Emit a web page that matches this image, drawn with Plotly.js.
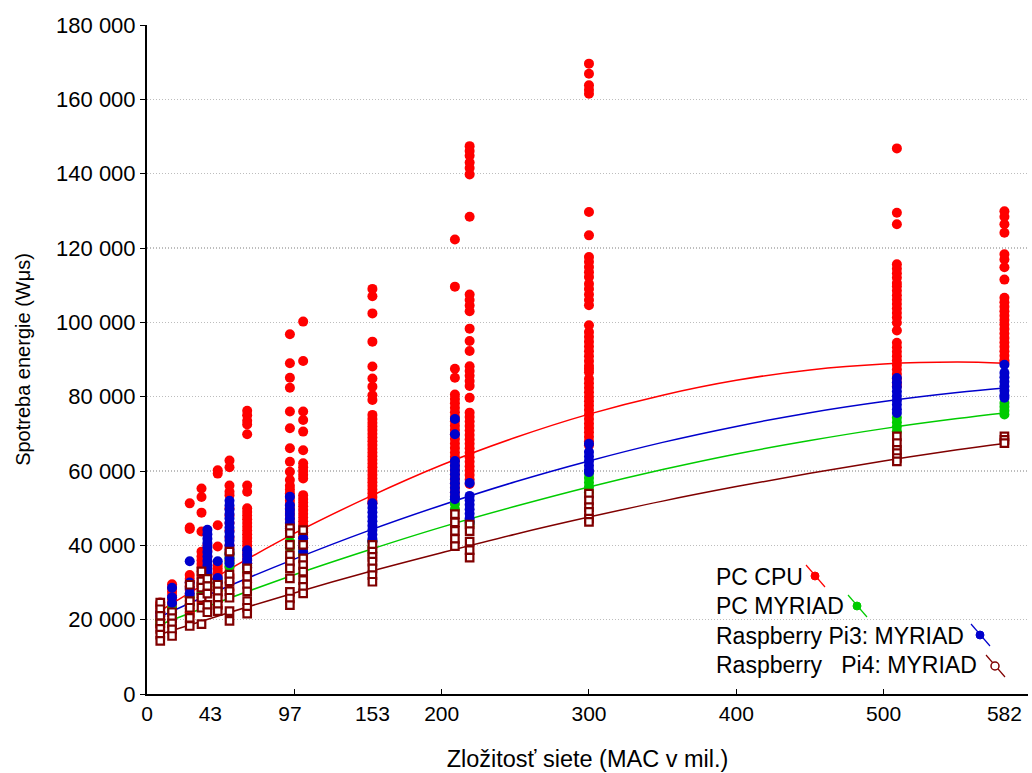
<!DOCTYPE html>
<html>
<head>
<meta charset="utf-8">
<script src="https://cdn.plot.ly/plotly-3.0.1.min.js"></script>
<style>html,body{margin:0;padding:0;background:#fff}#chart{width:1032px;height:773px}</style>
</head>
<body>
<div id="chart"></div>
<script>
// ---- data ----
const macClusters = [9, 17, 29, 37, 41, 48, 56, 68, 97, 106, 153, 209, 219, 300, 509, 582];
const xTickVals = [0, 43, 97, 153, 200, 300, 400, 500, 582];
const xTickText = ['0', '43', '97', '153', '200', '300', '400', '500', '582'];
const yTickVals = [0, 20000, 40000, 60000, 80000, 100000, 120000, 140000, 160000, 180000];
const seriesNames = ['PC CPU', 'PC MYRIAD', 'Raspberry Pi3: MYRIAD', 'Raspberry Pi4: MYRIAD'];

const pcCpuEnergy = [
  [18000, 19000, 20000, 21000, 22000, 23000, 24000, 24600],
  [22500, 23500, 24500, 25500, 26500, 27500, 28500, 29500],
  [51300, 44800, 44400, 32000, 31000, 30000, 29000, 28000, 27000, 26000, 25000, 24000, 23000, 22000, 21000],
  [55300, 53000, 48800, 43700, 38300, 37000, 36000, 35000, 34000, 33000, 32000, 31000, 30000, 29000, 28000, 27000, 26000, 25000],
  [40000, 38500, 37000, 35500, 34000, 32500, 31000, 29500, 28000],
  [60200, 59300, 45400, 39700, 34800, 33800, 32800, 31800, 30800, 29800, 28800, 27700, 26500, 25000, 23500],
  [62800, 61000, 56100, 54400, 53500, 50000, 48000, 46000, 44000, 42000, 40000, 38000, 36000, 34000, 32000, 30000, 28000],
  [76200, 75000, 73500, 72500, 69900, 56100, 54400, 50000, 49000, 48000, 47000, 46000, 45000, 44000, 43000, 42000, 41000, 40000, 39000, 38000, 37000, 36000, 35200, 34000, 32000, 30000],
  [96800, 89000, 85100, 82400, 76000, 71500, 66100, 62500, 59800, 57600, 56000, 55000, 54000, 53000, 52000, 51000, 50000, 49000, 48000, 47000, 46000, 45000, 44000],
  [100200, 89600, 76000, 73700, 70600, 65600, 62100, 61000, 60000, 59000, 58000, 53500, 52500, 51500, 50500, 49500, 48500, 47500, 46500, 45500, 44500, 43500, 42500, 41900],
  [109000, 107000, 102400, 94800, 88100, 84900, 82700, 80400, 79100, 75100, 74000, 73000, 72000, 71000, 70000, 69000, 68000, 67000, 66000, 65000, 64000, 63000, 62000, 61000, 60000, 59000, 58000, 57000, 56000, 55000, 54000, 53000, 52000, 51300],
  [122300, 109600, 87500, 85100, 80600, 79400, 78200, 77000, 75800, 74600, 73400, 72200, 71000, 69800, 68600, 67400, 66200, 65000, 63800, 62600, 61400, 60200, 59000, 57800, 56600, 55400, 54200, 53000],
  [147400, 146100, 144800, 143000, 141500, 139800, 128400, 107500, 106000, 104500, 103000, 98300, 95000, 92300, 88200, 86900, 85600, 84200, 82900, 79700, 75700, 74500, 73300, 72100, 70900, 69700, 68500, 67300, 66100, 64900, 63700, 62500, 61300, 60100, 58900, 57700, 56500],
  [169600, 166900, 163800, 162600, 161500, 129700, 123400, 117600, 116300, 114900, 113500, 112200, 110400, 109000, 107500, 106000, 104600, 99200, 97400, 96100, 94800, 93500, 92200, 90900, 89600, 88300, 87500, 86600, 84800, 83600, 82400, 81200, 80000, 78800, 77600, 76400, 75200, 74000, 72800, 71600, 70400, 69200, 68000, 66900],
  [146800, 129500, 126400, 115600, 114400, 113200, 112000, 110600, 109700, 108500, 107300, 106100, 104900, 103700, 102500, 101300, 99900, 97800, 94500, 93300, 92100, 90900, 89700, 88500, 87300, 86100, 84900, 83700, 82800],
  [129900, 128400, 126400, 124100, 118300, 116900, 114800, 111500, 106600, 105400, 104200, 103000, 101800, 100600, 99400, 98200, 97000, 95800, 94600, 93400, 92200, 91000, 89800, 89100]
];
const pcMyriadEnergy = [
  [19000, 20000], [22000, 23000], [24000, 26000], [27000], [29000, 30000], [28000, 30000],
  [37900, 36700, 35500, 34400], [33000, 34500], [41000, 40100, 39500], [37500, 38300],
  [41000, 39700, 38300], [52400, 51100, 49700], [45500, 46500],
  [59300, 58100, 56900, 55700, 54300], [74300, 73100, 71900, 70700], [78300, 77300, 76200, 75200]
];
const pi3Energy = [
  [21000, 22000], [28600, 26000, 24500], [35700, 30000, 28500, 27000], [],
  [44200, 43000, 41800, 40600, 39400, 38200, 37000, 35800, 34600, 33400, 32200, 31000],
  [35700, 31200, 30000],
  [52000, 50800, 49600, 48400, 47200, 46000, 44800, 43600, 42400, 41200, 40000, 38800, 37600, 36400, 35200],
  [38700, 37500, 36300, 35200, 34000],
  [53100, 50800, 49600, 48400, 47200, 46000, 44600],
  [41900, 40700, 39500, 38300],
  [51300, 50100, 48900, 47700, 46500, 45300, 44100, 42900, 41700, 41000],
  [74000, 69900, 62700, 61500, 60300, 59100, 57900, 56700, 55500, 54300, 53100, 52400],
  [56800, 53300, 52100, 50900, 49700, 48500, 47300, 46100],
  [67300, 65100, 63900, 62700, 61500, 60300, 59700],
  [85000, 83800, 82600, 81400, 80200, 79000, 77800, 76600, 75600],
  [88600, 86400, 85200, 84000, 82800, 81600, 80400, 79700]
];
const pi4Energy = [
  [24600, 22800, 21000, 19000, 17500, 16000, 14300],
  [22000, 20400, 19000, 17400, 15600],
  [29400, 25000, 23200, 20500, 18300],
  [33000, 30300, 28600, 25900, 23200, 18800],
  [31000, 29000, 27000, 24000, 22000],
  [29400, 27600, 25800, 24000, 22300],
  [38300, 32100, 30300, 27700, 25900, 22300, 19700],
  [33800, 31500, 29500, 27600, 25000, 23200, 21600],
  [44600, 43300, 40100, 37400, 35600, 33800, 31100, 27500, 25700, 23900],
  [44100, 40100, 36500, 34700, 32900, 30600, 28800, 27100],
  [40100, 38300, 36900, 35600, 33800, 32000, 30200],
  [48400, 46200, 43900, 41700, 39800],
  [45600, 43800, 41000, 38700, 36700],
  [53900, 52100, 50300, 49000, 47200, 46300],
  [69300, 67500, 65700, 64800, 63500, 62600],
  [69300, 68400, 67500]
];

// fitted curves
const fitX = [9, 50, 100, 150, 200, 250, 300, 350, 400, 450, 500, 550, 582];
const fitCpu = [22400, 32200, 43200, 52900, 61600, 69000, 75300, 80400, 84400, 87200, 88800, 89300, 89000];
const fitMyriad = [18700, 24900, 32100, 38700, 44900, 50500, 55700, 60400, 64600, 68200, 71400, 74100, 75600];
const fitPi3 = [20800, 28100, 36300, 43900, 50800, 57100, 62700, 67700, 72000, 75700, 78700, 81100, 82300];
const fitPi4 = [16100, 21200, 27200, 32800, 38000, 43000, 47600, 51900, 55800, 59400, 62700, 65700, 67400];

const colors = ['#ff0000', '#00cc00', '#0000cc', '#800000'];

function flatten(groups) {
  const xs = [], ys = [];
  groups.forEach((g, i) => g.forEach(v => { xs.push(macClusters[i]); ys.push(v); }));
  return {x: xs, y: ys};
}

const FONT = 'Liberation Sans, Arial, sans-serif';
const traces = [];
[fitCpu, fitMyriad, fitPi3, fitPi4].forEach((fy, i) => {
  traces.push({x: fitX, y: fy, mode: 'lines', type: 'scatter', line: {color: colors[i], width: 1.5, shape: 'spline'},
    showlegend: false, hoverinfo: 'skip'});
});
[pcCpuEnergy, pcMyriadEnergy, pi3Energy].forEach((g, i) => {
  const d = flatten(g);
  traces.push({x: d.x, y: d.y, mode: 'markers', type: 'scatter', name: seriesNames[i],
    marker: {color: colors[i], size: 10, symbol: 'circle'}, showlegend: false});
});
(function () {
  const d = flatten(pi4Energy);
  traces.push({x: d.x, y: d.y, mode: 'markers', type: 'scatter', name: seriesNames[3],
    marker: {color: '#ffffff', size: 7.5, symbol: 'square', line: {color: colors[3], width: 2.2}}, showlegend: false});
})();
// dummy trace to carry the secondary tick axis
traces.push({x: [], y: [], xaxis: 'x2', yaxis: 'y', mode: 'markers', showlegend: false, hoverinfo: 'skip'});

// hand legend (text then symbol, as in reference)
const L = 147, R = 1028, T = 25, B = 694;
const px = v => (v - L) / (R - L);
const py = v => (B - v) / (B - T);
const legendRows = [577, 606, 636, 665];
const legendLabels = ['PC CPU', 'PC MYRIAD', 'Raspberry Pi3: MYRIAD', 'Raspberry\u00a0\u00a0 Pi4: MYRIAD'];
const legendSym = [[815, 576], [857, 606], [980, 635], [995, 666]];
const annotations = legendLabels.map((n, i) => ({
  xref: 'paper', yref: 'paper', x: px(714), y: py(legendRows[i]), xanchor: 'left', yanchor: 'middle',
  text: n, showarrow: false, font: {family: FONT, size: 23, color: '#000'}
}));
const shapes = [];
legendSym.forEach((s, i) => {
  shapes.push({type: 'line', xref: 'paper', yref: 'paper', x0: px(s[0] - 9), y0: py(s[1] - 11), x1: px(s[0] + 10), y1: py(s[1] + 11),
    line: {color: colors[i], width: 1.2}, layer: 'above'});
  const hollow = i === 3;
  shapes.push({type: 'circle', xref: 'paper', yref: 'paper', xsizemode: 'pixel', ysizemode: 'pixel',
    xanchor: px(s[0]), yanchor: py(s[1]), x0: -4, x1: 4, y0: -4, y1: 4,
    fillcolor: hollow ? '#ffffff' : colors[i], line: {color: colors[i], width: hollow ? 1.5 : 1}, layer: 'above'});
});

const layout = {
  width: 1032, height: 773,
  margin: {l: L, r: 1032 - R, t: T, b: 773 - B},
  paper_bgcolor: '#ffffff', plot_bgcolor: '#ffffff',
  separators: '. ',
  font: {family: FONT, color: '#000'},
  showlegend: false,
  xaxis: {
    range: [0, 598], tickmode: 'array', tickvals: xTickVals, ticktext: xTickText, ticks: '',
    showgrid: false, zeroline: false, showline: true, linecolor: '#000', linewidth: 2,
    tickfont: {family: FONT, size: 21, color: '#000'},
    title: {text: 'Zložitosť siete (MAC v mil.)', font: {family: FONT, size: 23.5, color: '#000'}, standoff: 26}
  },
  xaxis2: {
    overlaying: 'x', anchor: 'y', side: 'bottom', range: [0, 598], tickmode: 'array', tickvals: [100, 200, 300, 400, 500],
    ticks: 'inside', ticklen: 5, tickcolor: '#000', tickwidth: 1, showticklabels: false, showgrid: false, zeroline: false, showline: false
  },
  yaxis: {
    range: [0, 180000], tickmode: 'array', tickvals: yTickVals, tickformat: ',d', ticks: 'outside', ticklen: 5, tickcolor: '#000',
    showgrid: true, gridcolor: '#bdbdbd', griddash: '1px,2px', gridwidth: 1.3,
    zeroline: false, showline: true, linecolor: '#000', linewidth: 2,
    tickfont: {family: FONT, size: 22, color: '#000'},
    title: {text: 'Spotreba energie (Wμs)', font: {family: FONT, size: 20, color: '#000'}, standoff: 20}
  },
  annotations: annotations,
  shapes: shapes
};

Plotly.newPlot('chart', traces, layout, {staticPlot: true, displayModeBar: false});
</script>
</body>
</html>
